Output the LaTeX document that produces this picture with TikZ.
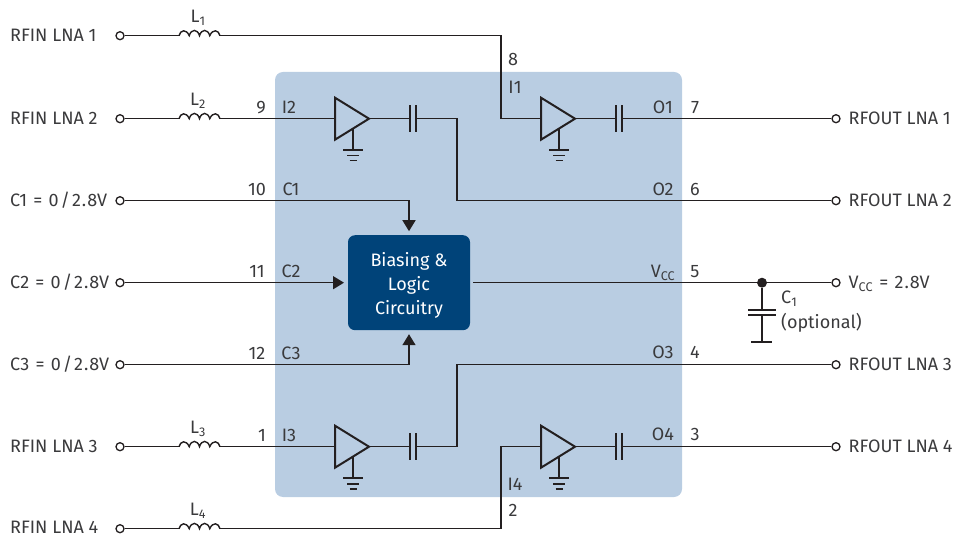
\documentclass[tikz,border=0pt]{standalone}
\usepackage{fontspec}
\setmainfont{Fira Sans}
\definecolor{panel}{HTML}{B9CDE2}
\definecolor{boxblue}{HTML}{004379}
\definecolor{ink}{HTML}{231F20}
\definecolor{txt}{HTML}{3A3A3C}
\usetikzlibrary{arrows.meta}
\tikzset{
 wire/.style={draw=ink,line width=1.5pt},
 arr/.style={wire,-{Triangle[length=11pt,width=13pt]}},
 term/.style={circle,draw=ink,line width=1.3pt,fill=white,minimum size=8pt,inner sep=0pt},
 lab/.style={text=txt,anchor=base,font=\fontsize{18}{20}\selectfont,inner sep=0pt},
 labl/.style={lab,anchor=base west},
 slot/.style={inner sep=0pt,outer sep=0pt,rectangle},
 ampbox/.style={slot,minimum width=34pt,minimum height=42pt},
 capbox/.style={slot,minimum width=6pt,minimum height=27pt},
 indbox/.style={slot,minimum width=41pt,minimum height=1pt},
 gnd/.style={draw=ink,line width=1.5pt},
}
\newcommand{\ampl}[2]{% name, centre
 \node[ampbox] (#1) at (#2) {};
 \draw[draw=ink,line width=2pt,line join=miter] (#1.north west)--(#1.east)--(#1.south west)--cycle;
 \coordinate (#1g) at ([xshift=18pt]#1.west);
 \draw[gnd] ([yshift=-10pt]#1g) -- ([yshift=-31pt]#1g);
 \draw[gnd,line width=1.8pt] ([xshift=-10pt,yshift=-31pt]#1g) -- ([xshift=10pt,yshift=-31pt]#1g);
 \draw[gnd,line width=1.6pt] ([xshift=-6pt,yshift=-37pt]#1g) -- ([xshift=6pt,yshift=-37pt]#1g);
 \draw[gnd,line width=1.6pt] ([xshift=-3.5pt,yshift=-42pt]#1g) -- ([xshift=3.5pt,yshift=-42pt]#1g);
}
\newcommand{\capa}[2]{%
 \node[capbox] (#1) at (#2) {};
 \draw[draw=ink,line width=1.9pt] (#1.north west)--(#1.south west) (#1.north east)--(#1.south east);
}
\newcommand{\indu}[2]{%
 \node[indbox] (#1) at (#2) {};
 \draw[draw=ink,line width=1.4pt] (#1.west)
  .. controls +(1.5,-6) and +(-3,-7) .. ++(10.25,0)
  .. controls +(2,-7) and +(-2,-7) .. ++(10.25,0)
  .. controls +(2,-7) and +(-2,-7) .. ++(10.25,0)
  .. controls +(3,-7) and +(-1.5,-6) .. ++(10.25,0);
}
\newcommand{\eqv}[1]{#1\hspace{1.5pt} =\hspace{1.5pt} 0\kern2pt/\kern2pt2\kern1pt.\kern1pt8V}
\begin{document}
\begin{tikzpicture}[x=1pt,y=-1pt]
\useasboundingbox (0,0) rectangle (953,537);
\fill[panel,rounded corners=8pt] (275,72) rectangle (682,497);
\begin{scope}[yshift=-0.7pt]
\foreach \n/\y in {a/35,b/118,c/200,d/282,e/364,f/446,g/528}{\node[term] (t\n) at (120,\y) {};}
\foreach \n/\y in {p/118,q/200,r/282,s/364,u/446}{\node[term] (o\n) at (836,\y) {};}
\indu{la}{199.5,35}\indu{lb}{199.5,118}\indu{lf}{199.5,446}\indu{lg}{199.5,528}
\ampl{ab}{352,118}\ampl{aa}{558,118}\ampl{af}{352,446}\ampl{ag}{558,446}
\capa{cb}{413,118}\capa{ca}{619,118}\capa{cf}{413,446}\capa{cg}{619,446}
\node[slot,fill=boxblue,rounded corners=7pt,minimum width=122pt,minimum height=95pt,text=white,align=center,font=\fontsize{18}{24}\selectfont] (bias) at (409,282) {\rule{0pt}{19pt}Biasing \&\\Logic\\Circuitry};
\coordinate (j1) at (501,35);
\coordinate (j1b) at (501,118);
\coordinate (j4) at (501,528);
\coordinate (j4b) at (501,446);
\coordinate (w2a) at (457,118);
\coordinate (w2b) at (457,200);
\coordinate (w3a) at (457,446);
\coordinate (w3b) at (457,364);
\coordinate (ac) at (409,200);
\coordinate (ae) at (409,364);
\coordinate (vs) at (473,282);
\coordinate (ccl) at (762,341);
\node[circle,fill=ink,minimum size=10pt,inner sep=0pt] (dot) at (762,282) {};
\draw[wire] (ta)--(la.west) (la.east)--(j1)--(j1b)--(aa.west);
\draw[wire] (tb)--(lb.west) (lb.east)--(ab.west);
\draw[wire] (tf)--(lf.west) (lf.east)--(af.west);
\draw[wire] (tg)--(lg.west) (lg.east)--(j4)--(j4b)--(ag.west);
\draw[wire] (ab.east)--(cb.west) (cb.east)--(w2a)--(w2b)--(oq);
\draw[wire] (af.east)--(cf.west) (cf.east)--(w3a)--(w3b)--(os);
\draw[wire] (aa.east)--(ca.west) (ca.east)--(op);
\draw[wire] (ag.east)--(cg.west) (cg.east)--(ou);
\draw[wire] (vs)--(or);
\draw[arr] (tc)--(ac)--([yshift=4pt]bias.north-|ac);
\draw[arr] (td)--([xshift=-4pt]bias.west);
\draw[arr] (te)--(ae)--([yshift=-4pt]bias.south-|ae);
\draw[wire] (dot)--(762,309);
\draw[wire] (762,314)--(ccl);
\draw[draw=ink,line width=1.9pt] (748,309)--(776,309) (748,314.5)--(776,314.5) (751,341)--(772,341);
\foreach \y/\t in {41/RFIN LNA 1,124/RFIN LNA 2,206/{\eqv{C1}},288/{\eqv{C2}},370/{\eqv{C3}},452/RFIN LNA 3,533/RFIN LNA 4}{\node[labl] at (10,\y) {\t};}
\foreach \y/\t in {124/RFOUT LNA 1,206/RFOUT LNA 2,370/RFOUT LNA 3,452/RFOUT LNA 4}{\node[labl] at (848.5,\y) {\t};}
\node[labl] at (848.5,288) {V\textsubscript{CC}\hspace{1.5pt} =\hspace{1.5pt} 2\kern1pt.\kern1pt8V};
\node[lab] at (198,22) {L\textsubscript{1}};
\node[lab] at (198,105) {L\textsubscript{2}};
\node[lab] at (198,433) {L\textsubscript{3}};
\node[lab] at (198,515) {L\textsubscript{4}};
\foreach \x/\y/\t in {261/113/9,289/113/I2,513/65/8,515/93/I1,695/113/7,663/113/O1,
 695/195/6,663/195/O2,257/195/10,291/195/C1,257/277/11,291/277/C2,257/359/12,291/359/C3,
 695/277/5,695/358/4,663/358/O3,262/441/1,289/441/I3,695/440/3,663/440/O4,515/490/I4,513/516/2}{\node[lab] at (\x,\y) {\t};}
\node[lab] at (663,277) {V\textsubscript{CC}};
\node[labl] at (781,303) {C\textsubscript{1}};
\node[labl] at (781,328) {(optional)};
\end{scope}
\end{tikzpicture}
\end{document}
